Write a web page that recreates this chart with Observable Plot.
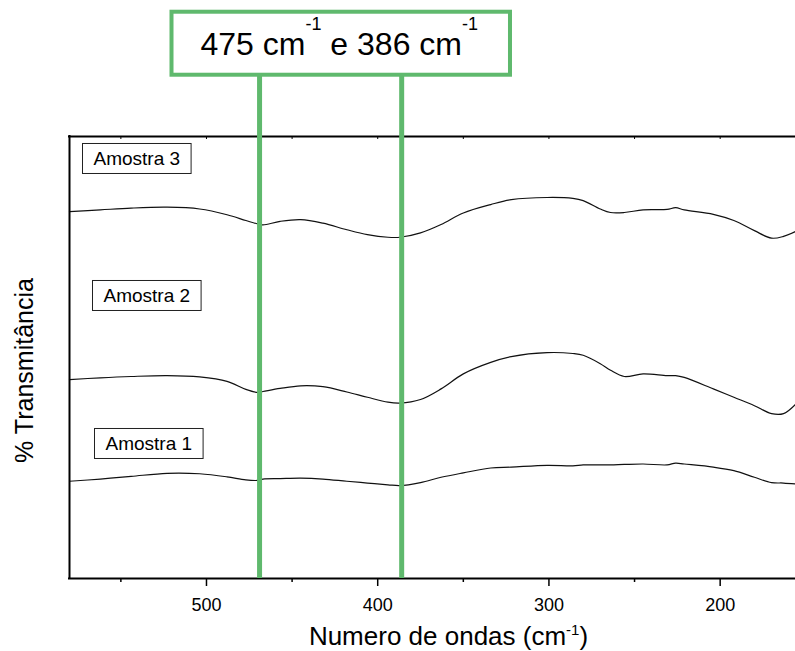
<!DOCTYPE html>
<html>
<head>
<meta charset="utf-8">
<script src="https://cdn.jsdelivr.net/npm/d3@7"></script>
<script src="https://cdn.jsdelivr.net/npm/@observablehq/plot@0.6"></script>
<style>
  body { margin: 0; background: #fff; }
  svg { display: block; }
  text { white-space: pre; }
</style>
</head>
<body>
<div id="chart"></div>
<script>
// ---- data ----
const wavenumbers = [580, 562, 544, 523, 504, 488, 477, 470, 467, 457, 445, 432, 418, 406, 394, 387, 375, 363, 350, 334,
                     322, 301, 286, 280, 270, 264, 256, 245, 231, 226, 221, 204, 192, 180, 170, 163, 156];
const amostra1 = [22.0, 22.5, 23.1, 23.8, 23.7, 23.0, 22.3, 22.2, 22.5, 22.6, 22.7, 22.5, 22.0, 21.6, 21.2, 21.0, 21.7, 22.9, 23.9, 25.0,
                  25.2, 25.6, 25.5, 25.7, 25.7, 25.7, 25.8, 25.9, 25.7, 26.1, 25.9, 25.2, 24.4, 22.9, 21.7, 21.6, 21.4];
const amostra2 = [45.0, 45.4, 45.7, 45.9, 45.6, 44.6, 42.8, 42.1, 42.3, 43.0, 43.6, 43.4, 42.2, 41.0, 39.9, 39.7, 40.5, 42.9, 46.3, 48.9,
                  50.2, 51.1, 50.9, 50.5, 48.6, 47.1, 45.7, 46.3, 45.9, 45.9, 45.5, 42.9, 41.0, 39.1, 37.3, 37.3, 39.4];
const amostra3 = [83.0, 83.4, 83.8, 84.0, 83.6, 82.3, 81.0, 80.2, 80.0, 80.8, 81.2, 80.4, 78.9, 77.8, 77.2, 77.2, 78.2, 80.1, 82.7, 84.6,
                  85.7, 86.2, 86.0, 85.5, 83.6, 82.8, 82.8, 83.4, 83.5, 83.9, 83.4, 82.4, 81.0, 78.7, 77.0, 77.4, 78.5];
const seriesNames = ["Amostra 1", "Amostra 2", "Amostra 3"];
const peaks = [469, 386];
const majorTicks = [500, 400, 300, 200];
const minorTicks = [550, 450, 350, 250];
const xLabel = "Numero de ondas (cm^-1)";
const yLabel = "% Transmitância";
const annotation = "475 cm^-1 e 386 cm^-1";

// ---- build table ----
const rows = [];
[amostra1, amostra2, amostra3].forEach((vals, i) =>
  vals.forEach((v, j) => rows.push({series: seriesNames[i], x: wavenumbers[j], y: v})));

const font = "'Liberation Sans', Arial, Helvetica, sans-serif";
const green = "#5fb96d";
const xDomain = [580, 156];
const yDomain = [0, 100];
const W = 795, H = 651, mL = 69, mR = 0, mT = 136, mB = 73;
const frameH = H - mT - mB;

const plot = Plot.plot({
  width: W, height: H,
  marginLeft: mL, marginRight: mR, marginTop: mT, marginBottom: mB,
  style: {fontFamily: font, background: "white", color: "black", overflow: "visible"},
  x: {domain: xDomain, axis: null},
  y: {domain: yDomain, axis: null},
  marks: [
    // spectra
    Plot.lineY(rows, {x: "x", y: "y", z: "series", stroke: "#111", strokeWidth: 1.2, curve: "catmull-rom"}),
    // frame: top, bottom, left
    Plot.ruleY([yDomain[0], yDomain[1]], {stroke: "black", strokeWidth: 2, strokeLinecap: "square"}),
    Plot.ruleX([xDomain[0]], {stroke: "black", strokeWidth: 2, strokeLinecap: "square"}),
    // bottom ticks (outward) and top ticks (inward)
    Plot.ruleX(majorTicks, {x: d => d, stroke: "black", strokeWidth: 1.5, insetTop: frameH, insetBottom: -8}),
    Plot.ruleX(minorTicks, {x: d => d, stroke: "black", strokeWidth: 1.5, insetTop: frameH, insetBottom: -4}),
    Plot.ruleX([...majorTicks, ...minorTicks], {x: d => d, stroke: "black", strokeWidth: 1, insetBottom: frameH - 3}),
    // tick labels
    Plot.text(majorTicks, {x: d => d, text: d => String(d), frameAnchor: "bottom", lineAnchor: "top", dy: 20, fontSize: 18, fill: "black"}),
    // sample labels
    Plot.text([seriesNames[2]], {text: d => d, frameAnchor: "top-left", textAnchor: "start", lineAnchor: "top", dx: 24, dy: 15, fontSize: 19, fill: "black"}),
    Plot.text([seriesNames[1]], {text: d => d, frameAnchor: "top-left", textAnchor: "start", lineAnchor: "top", dx: 34, dy: 152, fontSize: 19, fill: "black"}),
    Plot.text([seriesNames[0]], {text: d => d, frameAnchor: "top-left", textAnchor: "start", lineAnchor: "top", dx: 36, dy: 300, fontSize: 19, fill: "black"}),
    // peak markers
    Plot.ruleX(peaks, {x: d => d, stroke: green, strokeWidth: 5, insetTop: -61}),
    // annotation text
    Plot.text([annotation], {text: d => d, frameAnchor: "top", textAnchor: "start", lineAnchor: "top", dx: -232, dy: -104, fontSize: 32, fill: "black"}),
    // axis titles
    Plot.text([xLabel], {text: d => d, frameAnchor: "bottom", textAnchor: "middle", lineAnchor: "middle", dx: 16, dy: 58, fontSize: 26, fill: "black"}),
    Plot.text([yLabel], {text: d => d, frameAnchor: "left", textAnchor: "middle", lineAnchor: "middle", rotate: -90, dx: -45, dy: 13, fontSize: 25, fill: "black"})
  ]
});

document.getElementById("chart").appendChild(plot);
const svg = d3.select(plot);

// superscripts "^-1"
function applySup(el, supSize, shift) {
  const parts = el.textContent.split(/\^(-1)/);
  el.textContent = "";
  let offset = 0;
  parts.forEach((p, i) => {
    if (!p) return;
    const isSup = i % 2 === 1;
    const t = d3.select(el).append("tspan").text(p);
    const target = isSup ? -shift : 0;
    if (target !== offset) { t.attr("dy", target - offset); offset = target; }
    if (isSup) t.attr("font-size", supSize);
  });
}
let annEl = null;
svg.selectAll("text").each(function() {
  const s = this.textContent;
  if (s === annotation) { annEl = this; applySup(this, 18, 25); }
  else if (s === xLabel) applySup(this, 15, 10);
});

// boxes around sample labels
svg.selectAll("text").filter(function() { return seriesNames.includes(this.textContent); }).each(function() {
  const bb = this.getBBox();
  d3.select(this.parentNode).insert("rect", () => this)
    .attr("transform", this.getAttribute("transform"))
    .attr("x", bb.x - 11).attr("y", bb.y + bb.height / 2 - 15)
    .attr("width", bb.width + 22).attr("height", 30)
    .attr("fill", "white").attr("stroke", "#222").attr("stroke-width", 1);
});

// green box around the annotation
if (annEl) {
  const bb = annEl.getBBox();
  d3.select(annEl.parentNode).insert("rect", () => annEl)
    .attr("transform", annEl.getAttribute("transform"))
    .attr("x", bb.x - 29).attr("y", bb.y - 2.5)
    .attr("width", bb.width + 61).attr("height", bb.height + 15)
    .attr("fill", "white").attr("stroke", green).attr("stroke-width", 4);
}
</script>
</body>
</html>
